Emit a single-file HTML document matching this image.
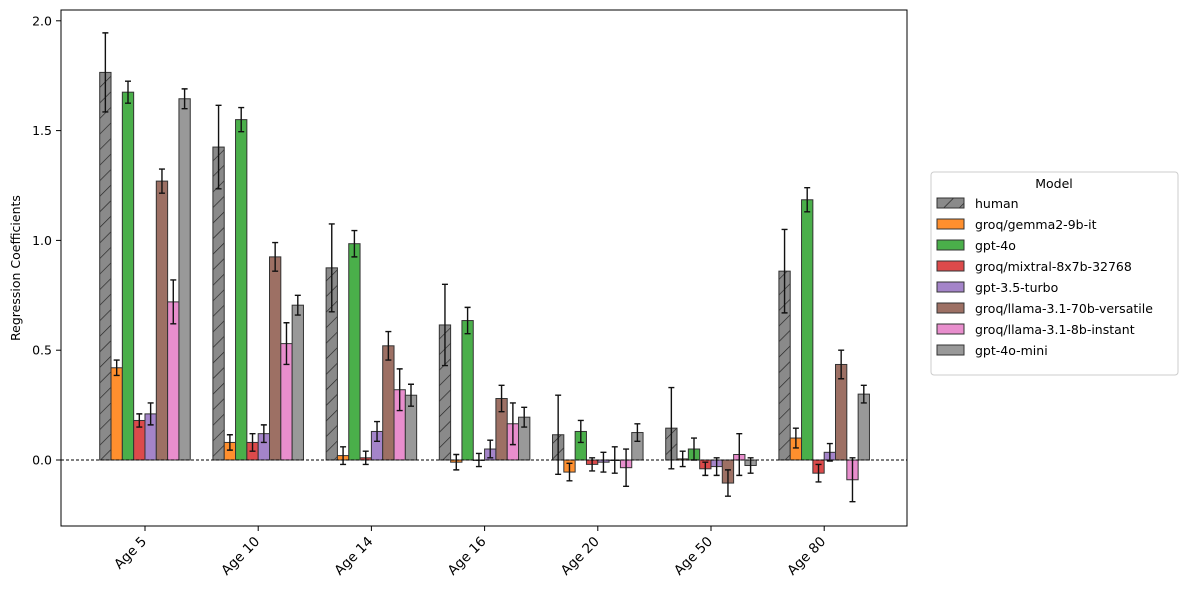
<!DOCTYPE html>
<html><head><meta charset="utf-8"><style>
body{margin:0;background:#fff;font-family:"DejaVu Sans",sans-serif}
svg text{font-family:"DejaVu Sans","Liberation Sans",sans-serif;fill:#000}
</style></head><body>
<svg id="chart" width="1188" height="590" xmlns="http://www.w3.org/2000/svg">
<defs><pattern id="hatch" width="11" height="11" patternUnits="userSpaceOnUse" patternTransform="rotate(45)"><rect width="11" height="11" fill="#8a8a8a"/><line x1="0" y1="0" x2="0" y2="11" stroke="#222" stroke-width="1.3"/></pattern></defs>
<rect x="61" y="10" width="846" height="516" fill="none" stroke="#000"/>
<g id="marks"></g>
<text transform="translate(20,268) rotate(-90)" text-anchor="middle" font-size="12.5">Regression Coefficients</text>
<g>
<rect x="931" y="172" width="247" height="203" fill="#fff" stroke="#ccc" rx="3"/>
<text x="1054" y="188" text-anchor="middle" font-size="12.5">Model</text>
<g id="legend-items"></g>
</g>
</svg>
<script>
const categories=["Age 5","Age 10","Age 14","Age 16","Age 20","Age 50","Age 80"];
const models=["human","groq/gemma2-9b-it","gpt-4o","groq/mixtral-8x7b-32768","gpt-3.5-turbo","groq/llama-3.1-70b-versatile","groq/llama-3.1-8b-instant","gpt-4o-mini"];
const colors=["url(#hatch)","#ff8f2e","#4aaf4a","#dc4a4b","#a484c9","#9d7064","#e88ecd","#999999"];
const human=[1.765,1.425,0.875,0.615,0.115,0.145,0.86];
const gemma=[0.42,0.08,0.02,-0.01,-0.055,0.005,0.1];
const gpt4o=[1.675,1.55,0.985,0.635,0.13,0.05,1.185];
const mixtral=[0.18,0.08,0.01,0,-0.02,-0.04,-0.06];
const gpt35=[0.21,0.12,0.13,0.05,-0.01,-0.03,0.035];
const llama70=[1.27,0.925,0.52,0.28,0,-0.105,0.435];
const llama8=[0.72,0.53,0.32,0.165,-0.035,0.025,-0.09];
const mini=[1.645,0.705,0.295,0.195,0.125,-0.025,0.3];
const humanErr=[0.18,0.19,0.2,0.185,0.18,0.185,0.19];
const gemmaErr=[0.035,0.035,0.04,0.035,0.04,0.035,0.045];
const gpt4oErr=[0.05,0.055,0.06,0.06,0.05,0.05,0.055];
const mixtralErr=[0.03,0.04,0.03,0.03,0.03,0.03,0.04];
const gpt35Err=[0.05,0.04,0.045,0.04,0.045,0.04,0.04];
const llama70Err=[0.055,0.065,0.065,0.06,0.06,0.06,0.065];
const llama8Err=[0.1,0.095,0.095,0.095,0.085,0.095,0.1];
const miniErr=[0.045,0.045,0.05,0.045,0.04,0.035,0.04];
const yTicks=[0,0.5,1.0,1.5,2.0];
const series=[human,gemma,gpt4o,mixtral,gpt35,llama70,llama8,mini];
const errs=[humanErr,gemmaErr,gpt4oErr,mixtralErr,gpt35Err,llama70Err,llama8Err,miniErr];
const NS="http://www.w3.org/2000/svg";
const y=v=>460-v*219.6;
const xc=i=>145+i*113.2;
const bw=11.32;
const g=document.getElementById('marks');
function mk(t,a,p){const e=document.createElementNS(NS,t);for(const k in a)e.setAttribute(k,a[k]);(p||g).appendChild(e);return e;}
yTicks.forEach(t=>{
 const tk=mk('line',{x1:56,x2:61,y1:y(t),y2:y(t),stroke:'#000'});
 
 
 const tl=mk('text',{x:52,y:y(t)+4.5,'text-anchor':'end','font-size':12.5});
 tl.textContent=t.toFixed(1);
 
 
});
categories.forEach((c,i)=>{
 const x=xc(i);
 const tk=mk('line',{x1:x,x2:x,y1:526,y2:531,stroke:'#000'});
 
 
 const tl=mk('text',{transform:`translate(${x-5},${535}) rotate(-45)`,'text-anchor':'end','font-size':13.5,dy:'0.75em'});
 tl.textContent=c;
 
 
});
series.forEach((s,j)=>{
 s.forEach((v,i)=>{
  const x0=xc(i)-45.3+j*bw;
  const top=Math.min(y(v),y(0)),h=Math.abs(y(v)-y(0));
  const b=mk('rect',{x:x0,y:top,width:bw,height:Math.max(h,0.5),fill:colors[j],stroke:'#333','stroke-width':1});
  
  
  const e=errs[j][i],cx=x0+bw/2;
  const eb=mk('path',{d:`M${cx},${y(v+e)}V${y(v-e)}M${cx-3},${y(v+e)}H${cx+3}M${cx-3},${y(v-e)}H${cx+3}`,stroke:'#111','stroke-width':1.4,fill:'none'});
  
  
 });
});
const zl=mk('line',{x1:61,x2:907,y1:y(0),y2:y(0),stroke:'#000','stroke-dasharray':'3,2','stroke-width':0.9});


const lg=document.getElementById('legend-items');
models.forEach((m,j)=>{
 const yy=198+j*21;
 const r=mk('rect',{x:937,y:yy,width:27,height:10,fill:colors[j],stroke:'#333'},lg);
 
 
 const t=mk('text',{x:975,y:yy+10,'font-size':12.5},lg);
 t.textContent=m;
 
 
});
</script>
</body></html>
